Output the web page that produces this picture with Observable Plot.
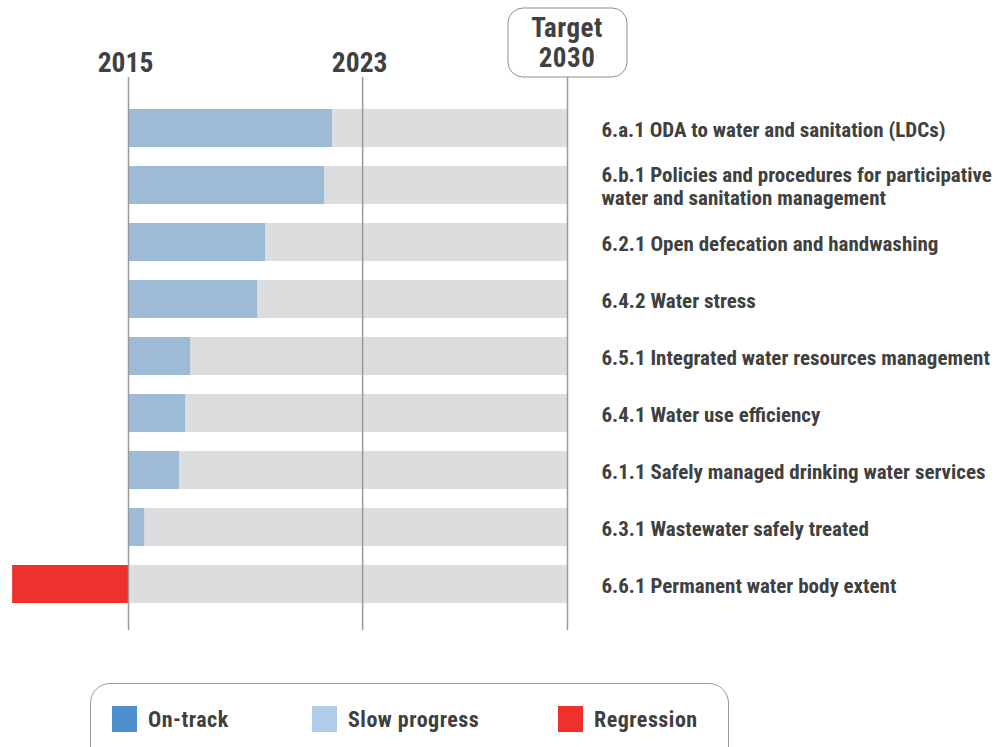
<!DOCTYPE html>
<html>
<head>
<meta charset="utf-8">
<script src="https://cdn.jsdelivr.net/npm/d3@7"></script>
<script src="https://cdn.jsdelivr.net/npm/@observablehq/plot@0.6"></script>
<style>
  html, body { margin: 0; padding: 0; background: #fff; }
  body { width: 999px; height: 747px; overflow: hidden; position: relative;
         font-family: "Roboto Condensed", "Liberation Sans Narrow", "DejaVu Sans Condensed", Roboto, sans-serif; }
  #chart svg { display: block; }
  .legend { position: absolute; left: 90px; top: 683px; width: 639px; height: 90px;
            border: 1px solid #9a9a9a; border-radius: 20px; box-sizing: border-box; }
  .item { position: absolute; top: 22px; display: flex; align-items: center;
          font-weight: bold; font-size: 22px; letter-spacing: 0.5px; color: #404040; }
  .sw { width: 25px; height: 26px; margin-right: 11px; }
</style>
</head>
<body>
<div id="chart"></div>
<div class="legend" id="legend"></div>
<script>
const indicators = [
  "6.a.1 ODA to water and sanitation (LDCs)",
  "6.b.1 Policies and procedures for participative\nwater and sanitation management",
  "6.2.1 Open defecation and handwashing",
  "6.4.2 Water stress",
  "6.5.1 Integrated water resources management",
  "6.4.1 Water use efficiency",
  "6.1.1 Safely managed drinking water services",
  "6.3.1 Wastewater safely treated",
  "6.6.1 Permanent water body extent"
];
// progress expressed in years from the 2015 baseline (negative = regression)
const progress = [6.97, 6.70, 4.68, 4.41, 2.12, 1.95, 1.74, 0.55, -3.96];
const status = ["Slow progress", "Slow progress", "Slow progress", "Slow progress", "Slow progress",
                "Slow progress", "Slow progress", "Slow progress", "Regression"];
const milestoneYears = [2015, 2023];
const targetYear = 2030;
const baseYear = 2015;
const legendLabels = ["On-track", "Slow progress", "Regression"];
const legendColors = ["#4f8fcd", "#afcdea", "#ee312c"];
const barColors = {"On-track": "#4f8fcd", "Slow progress": "#9dbad7", "Regression": "#ee312c"};

const data = indicators.map((name, i) => ({name, value: progress[i], status: status[i]}));

const targetBox = (index, scales, values, dims) => {
  const x = scales.x(targetYear);
  const g = d3.create("svg:g");
  g.append("rect").attr("x", x - 59).attr("y", 8).attr("width", 119).attr("height", 69)
    .attr("rx", 15).attr("fill", "#fff").attr("stroke", "#8f8f8f").attr("stroke-width", 1);
  const t = g.append("text").attr("text-anchor", "middle").attr("fill", "#404040")
    .attr("font-weight", "bold").attr("font-size", 27).attr("letter-spacing", 0.5);
  t.append("tspan").attr("x", x).attr("y", 37).text("Target");
  t.append("tspan").attr("x", x).attr("y", 67).text(String(targetYear));
  return g.node();
};

const chart = Plot.plot({
  width: 999,
  height: 665,
  marginTop: 77,
  marginBottom: 35,
  marginLeft: 0,
  marginRight: 0,
  style: {fontFamily: "\"Roboto Condensed\", \"Liberation Sans Narrow\", \"DejaVu Sans Condensed\", Roboto, sans-serif", background: "#fff"},
  x: {domain: [baseYear, targetYear], range: [128, 567], axis: null},
  y: {domain: indicators, range: [99.5, 612.5], paddingInner: 0.33, paddingOuter: 0.165, axis: null},
  marks: [
    Plot.barX(data, {y: "name", x1: baseYear, x2: targetYear, fill: "#dcdddf"}),
    Plot.barX(data, {y: "name", x1: baseYear, x2: d => baseYear + d.value, fill: d => barColors[d.status]}),
    Plot.ruleX([...milestoneYears, targetYear], {stroke: "#9a9a9a", strokeWidth: 1.5}),
    Plot.text(milestoneYears, {x: d => d, frameAnchor: "top", dy: -6, lineAnchor: "bottom",
      text: d => String(d), fontSize: 27.5, fontWeight: "bold", fill: "#404040", dx: -3}),
    Plot.text(data, {x: targetYear, y: "name", text: "name", textAnchor: "start", dx: 34, dy: 1,
      fontSize: 21, fontWeight: "bold", fill: "#404040", lineHeight: 1.1}),
    targetBox
  ]
});
chart.querySelectorAll("text").forEach(t => {
  if (t.getAttribute("font-size") === "21") t.setAttribute("letter-spacing", "0.4");
});
document.getElementById("chart").appendChild(chart);

const legend = document.getElementById("legend");
const lefts = [21, 221, 467];
legendLabels.forEach((lab, i) => {
  const it = document.createElement("div");
  it.className = "item";
  it.style.left = lefts[i] + "px";
  const sw = document.createElement("div");
  sw.className = "sw";
  sw.style.background = legendColors[i];
  it.appendChild(sw);
  const sp = document.createElement("span");
  sp.textContent = lab;
  it.appendChild(sp);
  legend.appendChild(it);
});
</script>
</body>
</html>
